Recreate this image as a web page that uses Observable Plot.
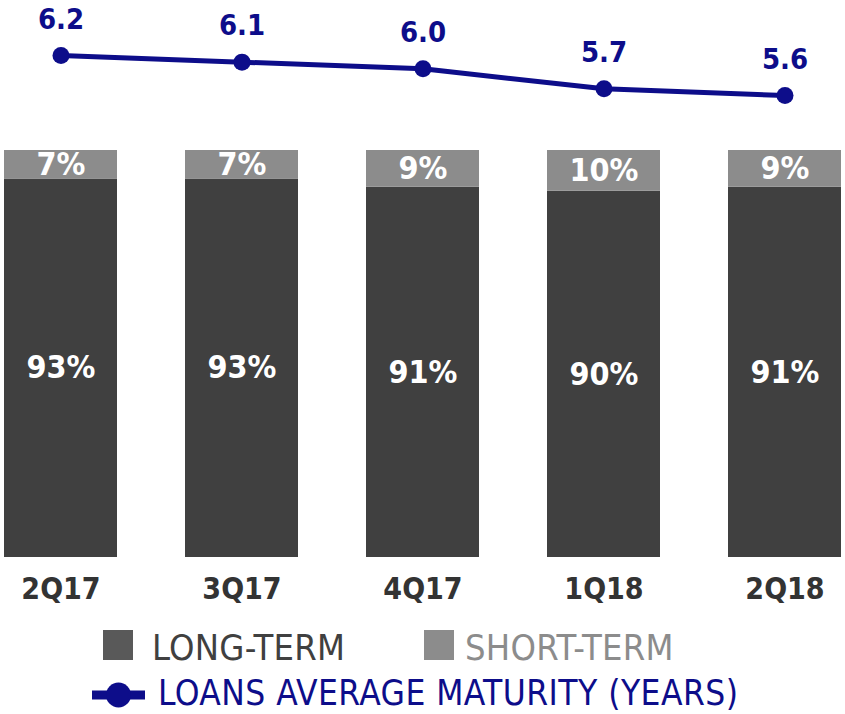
<!DOCTYPE html>
<html>
<head>
<meta charset="utf-8">
<script src="https://cdn.jsdelivr.net/npm/d3@7"></script>
<script src="https://cdn.jsdelivr.net/npm/@observablehq/plot@0.6"></script>
<style>
  body { margin: 0; background: #fff; font-family: "DejaVu Sans Condensed", "DejaVu Sans", sans-serif; }
  #wrap { position: relative; width: 845px; height: 714px; overflow: hidden; }
  #wrap svg { display: block; }
</style>
</head>
<body>
<div id="wrap"></div>
<script>
const quarters = ["2Q17", "3Q17", "4Q17", "1Q18", "2Q18"];
const longTerm = [93, 93, 91, 90, 91];
const shortTerm = [7, 7, 9, 10, 9];
const maturity = [6.2, 6.1, 6.0, 5.7, 5.6];

const seriesNames = ["LONG-TERM", "SHORT-TERM"];
const barColors = ["#404040", "#8c8c8c"];
const legendColors = ["#595959", "#8c8c8c"];
const legendTextColors = ["#404040", "#8c8c8c"];
const navy = "#0d0d8a";
const font = "DejaVu Sans Condensed, DejaVu Sans, sans-serif";

const bars = [];
quarters.forEach((q, i) => {
  bars.push({q, type: seriesNames[0], v: longTerm[i]});
  bars.push({q, type: seriesNames[1], v: shortTerm[i]});
});
const lineData = quarters.map((q, i) => ({q, m: maturity[i]}));

const xOpts = {type: "band", domain: quarters, paddingInner: 0.375, paddingOuter: 0.02};

const linePlot = Plot.plot({
  width: 845, height: 140,
  marginLeft: 0, marginRight: 0, marginTop: 0, marginBottom: 0,
  style: {fontFamily: font, background: "transparent"},
  x: {...xOpts, axis: null},
  y: {domain: [5, 7], range: [135, 1.6], axis: null},
  marks: [
    Plot.line(lineData, {x: "q", y: "m", stroke: navy, strokeWidth: 5}),
    Plot.dot(lineData, {x: "q", y: "m", r: 8.5, fill: navy}),
    Plot.text(lineData, {x: "q", y: "m", text: d => d.m.toFixed(1), dy: -36,
      fill: navy, fontSize: 29, fontWeight: "bold"})
  ]
});

const barPlot = Plot.plot({
  width: 845, height: 474,
  marginLeft: 0, marginRight: 0, marginTop: 10, marginBottom: 57,
  style: {fontFamily: font, background: "transparent"},
  x: {...xOpts},
  y: {domain: [0, 100], axis: null},
  color: {domain: seriesNames, range: barColors},
  marks: [
    Plot.barY(bars, Plot.stackY({x: "q", y: "v", fill: "type"})),
    Plot.text(bars, Plot.stackY({x: "q", y: "v", z: "type", text: d => d.v + "%",
      fill: "white", fontSize: 32, fontWeight: "bold"})),
    Plot.axisX({tickSize: 0, tickPadding: 20, fontSize: 30, fontWeight: "bold",
      color: "#333333", label: null})
  ]
});

const wrap = document.getElementById("wrap");
wrap.appendChild(linePlot);
wrap.appendChild(barPlot);

// Legend (below the chart)
const lg = d3.create("svg").attr("width", 845).attr("height", 100)
  .style("font-family", font);
const row1 = [{x: 103, tx: 152}, {x: 424, tx: 465}];
seriesNames.forEach((name, i) => {
  lg.append("rect").attr("x", row1[i].x).attr("y", 16).attr("width", 30).attr("height", 30)
    .attr("fill", legendColors[i]);
  lg.append("text").attr("x", row1[i].tx).attr("y", 46).attr("font-size", 36)
    .attr("letter-spacing", 0.3).attr("fill", legendTextColors[i]).text(name);
});
lg.append("line").attr("x1", 92).attr("x2", 145).attr("y1", 81).attr("y2", 81)
  .attr("stroke", navy).attr("stroke-width", 9);
lg.append("circle").attr("cx", 118.5).attr("cy", 81).attr("r", 12.5).attr("fill", navy);
lg.append("text").attr("x", 158).attr("y", 91).attr("font-size", 35)
  .attr("letter-spacing", 0.45).attr("fill", navy)
  .text("LOANS AVERAGE MATURITY (YEARS)");
wrap.appendChild(lg.node());
</script>
</body>
</html>
